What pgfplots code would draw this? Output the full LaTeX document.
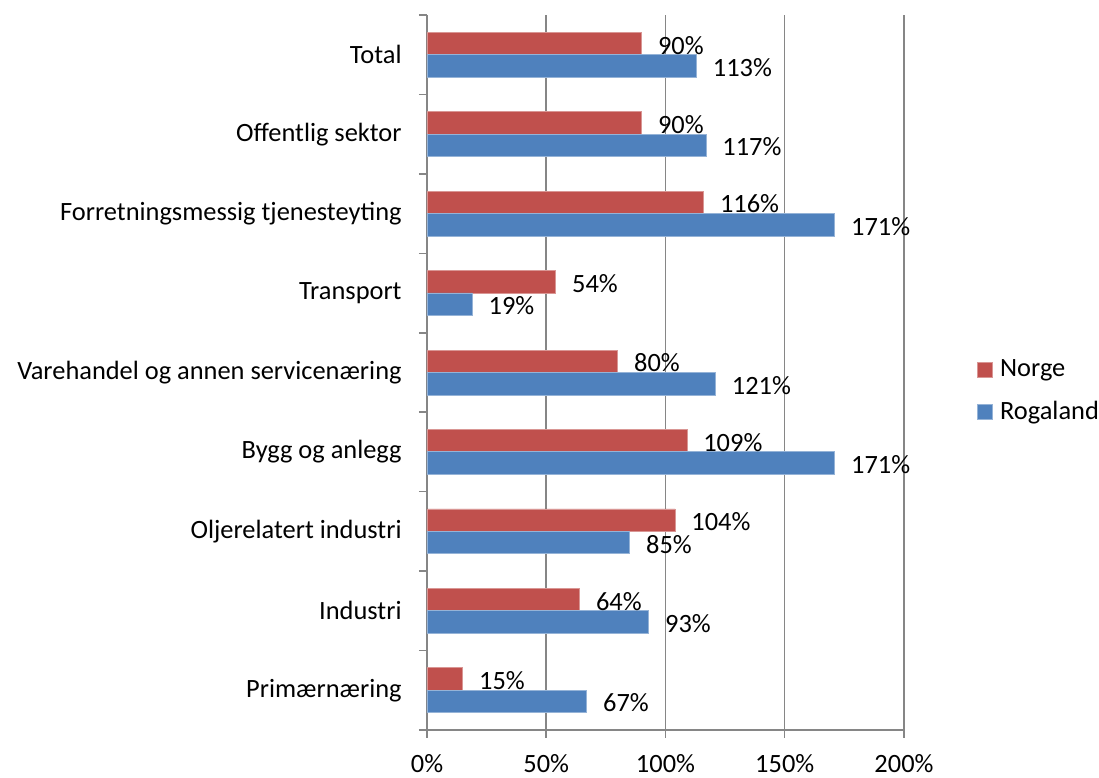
\documentclass[border=0pt]{standalone}
\usepackage{fontspec}
\setmainfont{Carlito}
\usepackage{pgfplots}
\pgfplotsset{compat=1.18}
\definecolor{norge}{HTML}{C0504D}
\definecolor{norgeedge}{HTML}{D99694}
\definecolor{roga}{HTML}{4F81BD}
\definecolor{rogaedge}{HTML}{95B3D7}
\definecolor{gridgray}{HTML}{868686}
\begin{document}
\begin{tikzpicture}[font=\fontsize{13.2}{16}\selectfont]
\begin{axis}[name=ax,
  scale only axis, width=238.5pt, height=357.5pt,
  xmin=0, xmax=200, ymin=-0.5, ymax=8.5,
  xbar, bar width=11.25pt,
  axis x line*=bottom, axis y line*=left,
  axis line style={gridgray, line width=0.75pt},
  tick style={gridgray, line width=0.75pt},
  tick align=outside, major tick length=4pt,
  xtick={0,50,100,150,200},
  xticklabels={0\%,50\%,100\%,150\%,200\%},
  xticklabel style={inner sep=0pt, yshift=-8pt},
  xmajorgrids, major grid style={gridgray, line width=0.75pt},
  ytick={-0.5,0.5,...,8.5}, yticklabels={},
  extra y ticks={0,1,2,3,4,5,6,7,8},
  extra y tick labels={Primærnæring, Industri, Oljerelatert industri, Bygg og anlegg, Varehandel og annen servicenæring, Transport, Forretningsmessig tjenesteyting, Offentlig sektor, Total},
  extra y tick style={major tick length=0pt, yticklabel style={inner sep=0pt, xshift=-12.5pt}},
  point meta=x,
  /pgf/number format/assume math mode=true,
  nodes near coords={\pgfmathprintnumber{\pgfplotspointmeta}\%},
  every node near coord/.append style={anchor=west, inner sep=0pt, xshift=8pt, yshift=-0.8pt, text=black},
  legend style={draw=none, fill=none, at={(1.153,0.474)}, anchor=west,
    inner sep=0pt, row sep=11pt, nodes={inner sep=0pt},
    /tikz/every odd column/.append style={column sep=3.5pt}},
  legend cell align=left,
  legend image code/.code={\fill[#1] (0pt,-3.75pt) rectangle (7.5pt,3.75pt);},
  clip=false,
]
\addplot[fill=norge, draw=norgeedge, line width=0.4pt, bar shift=5.6pt] coordinates {
  (15,0) (64,1) (104,2) (109,3) (80,4) (54,5) (116,6) (90,7) (90,8)};
\addlegendentry{Norge}
\addplot[fill=roga, draw=rogaedge, line width=0.4pt, bar shift=-5.6pt] coordinates {
  (67,0) (93,1) (85,2) (171,3) (121,4) (19,5) (171,6) (117,7) (113,8)};
\addlegendentry{Rogaland}
\end{axis}
\path ([xshift=-213.5pt,yshift=7.5pt]ax.north west);
\path ([xshift=97.5pt,yshift=-24pt]ax.south east);
\end{tikzpicture}
\end{document}
